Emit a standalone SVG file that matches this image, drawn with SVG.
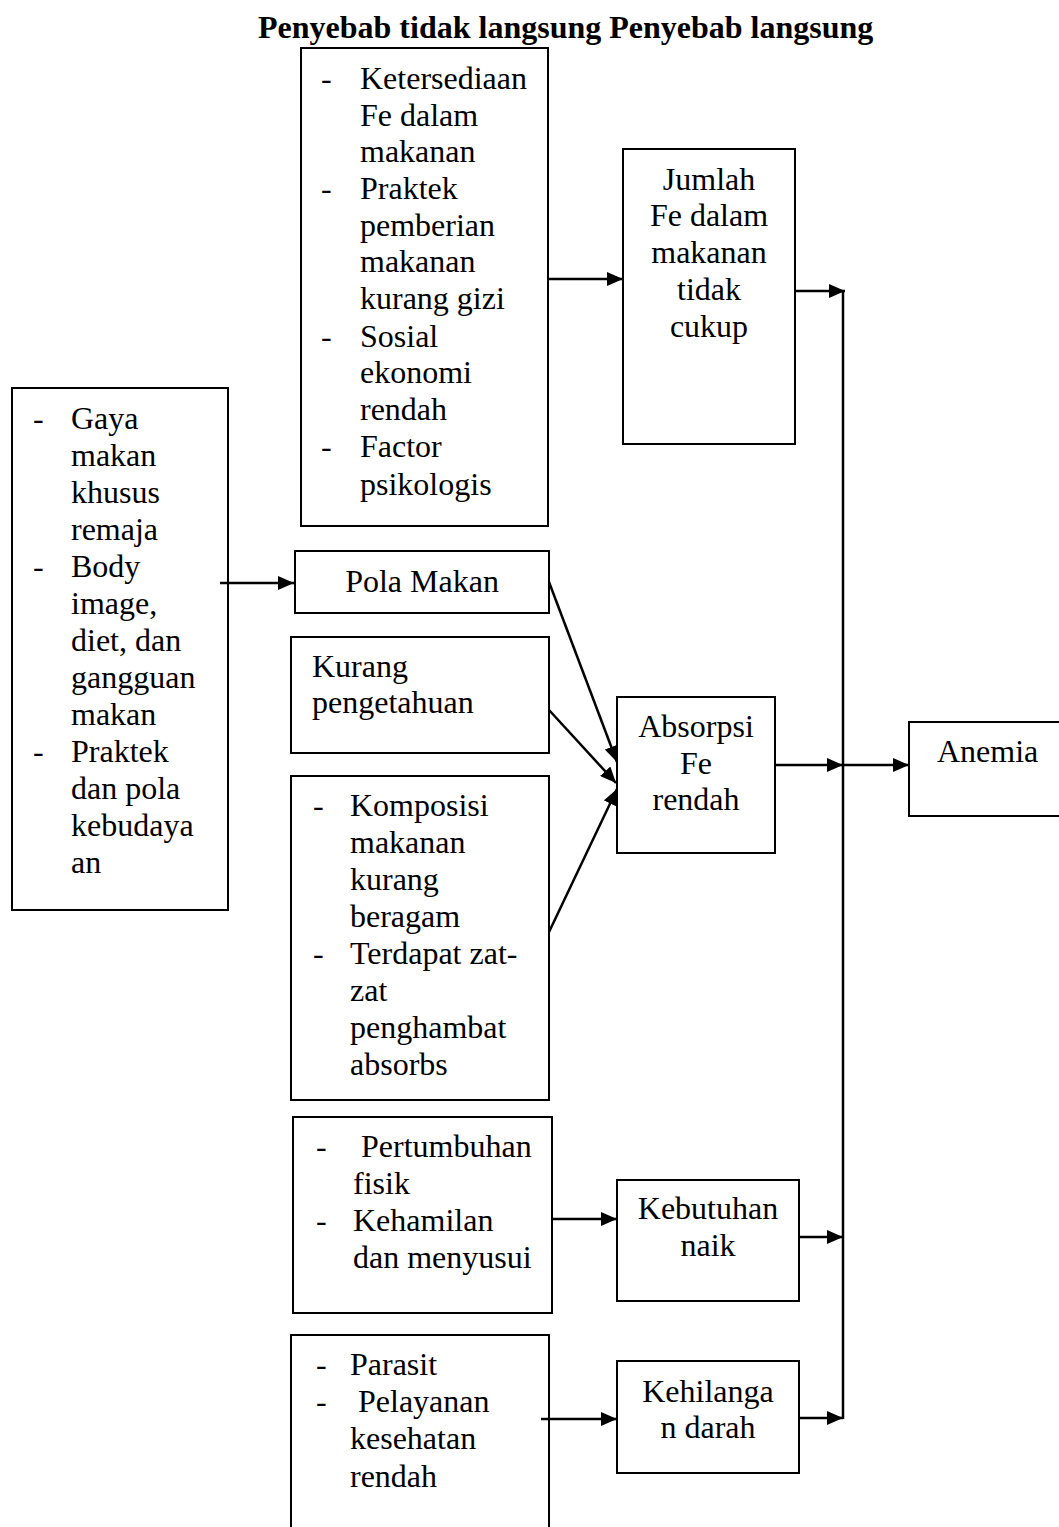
<svg xmlns="http://www.w3.org/2000/svg" width="1059" height="1527" viewBox="0 0 1059 1527">
<style>
text{font-family:"Liberation Serif","Times New Roman",serif;font-size:32px;fill:#000}
.t{font-weight:bold}
.c{text-anchor:middle}
.box{fill:#fff;stroke:#000;stroke-width:2}
.ln{fill:none;stroke:#000;stroke-width:2.5}
</style>
<defs>
<marker id="ah" markerWidth="16" markerHeight="14" refX="16" refY="7" orient="auto" markerUnits="userSpaceOnUse"><path d="M0,0 L16,7 L0,14 z" fill="#000"/></marker>
</defs>
<rect width="1059" height="1527" fill="#fff"/>
<text class="t" x="258" y="38">Penyebab tidak langsung Penyebab langsung</text>

<g id="nodeA">
<rect class="box" x="301" y="48" width="247" height="478"/>
<text x="321" y="89">-</text><text x="360" y="89">Ketersediaan</text>
<text x="360" y="126">Fe dalam</text>
<text x="360" y="162">makanan</text>
<text x="321" y="199">-</text><text x="360" y="199">Praktek</text>
<text x="360" y="236">pemberian</text>
<text x="360" y="272">makanan</text>
<text x="360" y="309">kurang gizi</text>
<text x="321" y="347">-</text><text x="360" y="347">Sosial</text>
<text x="360" y="383">ekonomi</text>
<text x="360" y="420">rendah</text>
<text x="321" y="457">-</text><text x="360" y="457">Factor</text>
<text x="360" y="495">psikologis</text>
</g>

<g id="nodeJumlah">
<rect class="box" x="623" y="149" width="172" height="295"/>
<text class="c" x="709" y="190">Jumlah</text>
<text class="c" x="709" y="226">Fe dalam</text>
<text class="c" x="709" y="263">makanan</text>
<text class="c" x="709" y="300">tidak</text>
<text class="c" x="709" y="337">cukup</text>
</g>

<g id="nodeGaya">
<rect class="box" x="12" y="388" width="216" height="522"/>
<text x="33" y="429">-</text><text x="71" y="429">Gaya</text>
<text x="71" y="466">makan</text>
<text x="71" y="503">khusus</text>
<text x="71" y="540">remaja</text>
<text x="33" y="577">-</text><text x="71" y="577">Body</text>
<text x="71" y="614">image,</text>
<text x="71" y="651">diet, dan</text>
<text x="71" y="688">gangguan</text>
<text x="71" y="725">makan</text>
<text x="33" y="762">-</text><text x="71" y="762">Praktek</text>
<text x="71" y="799">dan pola</text>
<text x="71" y="836">kebudaya</text>
<text x="71" y="873">an</text>
</g>

<g id="nodePola">
<rect class="box" x="295" y="551" width="254" height="62"/>
<text class="c" x="422" y="592">Pola Makan</text>
</g>

<g id="nodeKurang">
<rect class="box" x="291" y="637" width="258" height="116"/>
<text x="312" y="677">Kurang</text>
<text x="312" y="713">pengetahuan</text>
</g>

<g id="nodeKomposisi">
<rect class="box" x="291" y="776" width="258" height="324"/>
<text x="313" y="816">-</text><text x="350" y="816">Komposisi</text>
<text x="350" y="853">makanan</text>
<text x="350" y="890">kurang</text>
<text x="350" y="927">beragam</text>
<text x="313" y="964">-</text><text x="350" y="964">Terdapat zat-</text>
<text x="350" y="1001">zat</text>
<text x="350" y="1038">penghambat</text>
<text x="350" y="1075">absorbs</text>
</g>

<g id="nodeAbsorpsi">
<rect class="box" x="617" y="697" width="158" height="156"/>
<text class="c" x="696" y="737">Absorpsi</text>
<text class="c" x="696" y="774">Fe</text>
<text class="c" x="696" y="810">rendah</text>
</g>

<g id="nodeAnemia">
<rect class="box" x="909" y="722" width="170" height="94"/>
<text x="937" y="762">Anemia</text>
</g>

<g id="nodePertumbuhan">
<rect class="box" x="293" y="1117" width="259" height="196"/>
<text x="316" y="1157">-</text><text x="361" y="1157">Pertumbuhan</text>
<text x="353" y="1194">fisik</text>
<text x="316" y="1231">-</text><text x="353" y="1231">Kehamilan</text>
<text x="353" y="1268">dan menyusui</text>
</g>

<g id="nodeKebutuhan">
<rect class="box" x="617" y="1180" width="182" height="121"/>
<text class="c" x="708" y="1219">Kebutuhan</text>
<text class="c" x="708" y="1256">naik</text>
</g>

<g id="nodeParasit">
<rect class="box" x="291" y="1335" width="258" height="210"/>
<text x="316" y="1375">-</text><text x="350" y="1375">Parasit</text>
<text x="316" y="1412">-</text><text x="358" y="1412">Pelayanan</text>
<text x="350" y="1449">kesehatan</text>
<text x="350" y="1487">rendah</text>
</g>

<g id="nodeKehilangan">
<rect class="box" x="617" y="1361" width="182" height="112"/>
<text class="c" x="708" y="1402">Kehilanga</text>
<text class="c" x="708" y="1438">n darah</text>
</g>

<g id="connectors">
<path class="ln" d="M548,279 H623" marker-end="url(#ah)"/>
<path class="ln" d="M795,291 H845" marker-end="url(#ah)"/>
<path class="ln" d="M843,291 V1419"/>
<path class="ln" d="M220,583 H294" marker-end="url(#ah)"/>
<path class="ln" d="M549,582 L617,762" marker-end="url(#ah)"/>
<path class="ln" d="M549,710 L616,783" marker-end="url(#ah)"/>
<path class="ln" d="M549,932 L617,789" marker-end="url(#ah)"/>
<path class="ln" d="M775,765 H843" marker-end="url(#ah)"/>
<path class="ln" d="M843,765 H909" marker-end="url(#ah)"/>
<path class="ln" d="M552,1219 H617" marker-end="url(#ah)"/>
<path class="ln" d="M799,1237 H843" marker-end="url(#ah)"/>
<path class="ln" d="M541,1419 H617" marker-end="url(#ah)"/>
<path class="ln" d="M799,1418 H843" marker-end="url(#ah)"/>
</g>
</svg>
